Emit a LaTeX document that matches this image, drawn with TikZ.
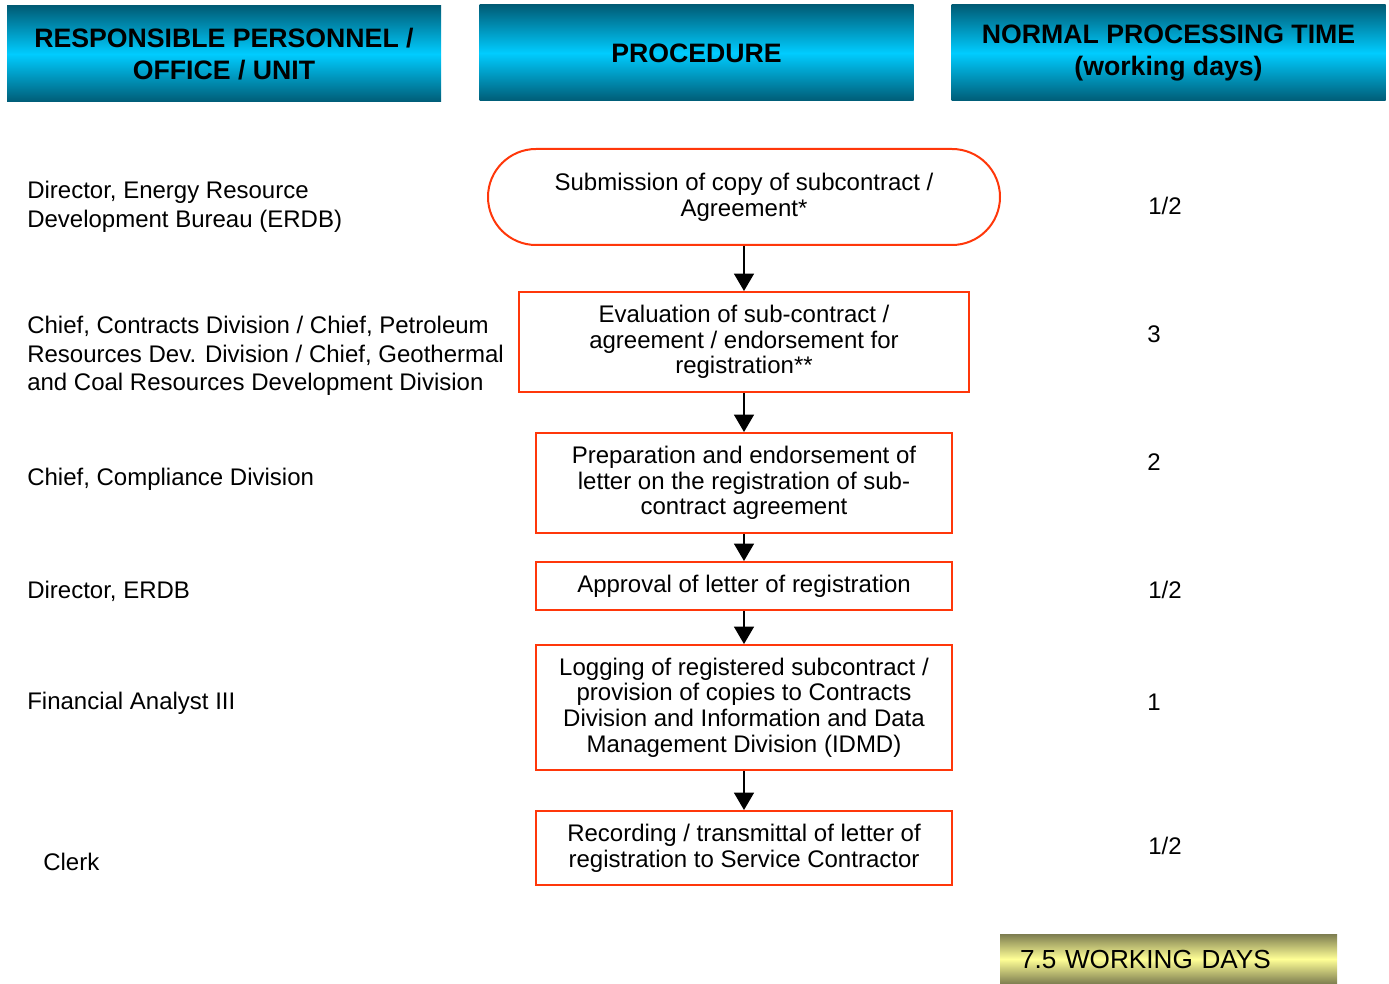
\documentclass[tikz,border=0pt]{standalone}
\usepackage{fontspec}
\setmainfont{Liberation Sans}
\usepackage{tikz}
\usetikzlibrary{arrows.meta,positioning}
\definecolor{headdark}{RGB}{0,92,118}
\definecolor{headlight}{RGB}{0,204,255}
\definecolor{flowred}{RGB}{255,55,10}
\definecolor{olivedark}{RGB}{125,125,80}
\definecolor{olivelight}{RGB}{255,255,150}

\begin{document}
\begin{tikzpicture}[
    head/.style={minimum width=325.5pt,minimum height=72pt,align=center,inner sep=0pt,
      top color=headdark,bottom color=headdark,middle color=headlight,
      font=\fontsize{20}{24}\selectfont\bfseries},
    flowbox/.style={draw=flowred,line width=1.5pt,align=center,inner sep=0pt,
      minimum width=312pt,font=\fontsize{18}{19.2}\selectfont},
    who/.style={anchor=west,align=left,inner sep=0pt,font=\fontsize{18}{21.4}\selectfont},
    days/.style={anchor=west,inner sep=0pt,font=\fontsize{18}{21.4}\selectfont},
    arrow/.style={-{Triangle[length=13pt,width=15pt]},line width=0.9pt}
  ]
    \useasboundingbox (0,0) rectangle (1041.75pt,-738pt);

    % column headers
    \node[head] (hwho) at (168pt,-40.5pt) {RESPONSIBLE PERSONNEL /\\OFFICE / UNIT};
    \node[head] (hproc) at (522.4pt,-39.75pt) {PROCEDURE};
    \node[head] (htime) at (876.4pt,-39.75pt) {NORMAL PROCESSING TIME\\(working days)};

    % procedure
    \node[flowbox,rounded corners=36pt,minimum width=384pt,minimum height=72pt] (submit) at (558pt,-147.75pt)
      {Submission of copy of subcontract /\\Agreement*};
    \node[flowbox,minimum width=337.5pt,minimum height=75pt,below=33.75pt of submit] (eval)
      {Evaluation of sub-contract /\\agreement / endorsement for\\registration**};
    \node[flowbox,minimum height=75pt,below=29.25pt of eval] (prep)
      {Preparation and endorsement of\\letter on the registration of sub-\\contract agreement};
    \node[flowbox,minimum height=36pt,below=20.25pt of prep] (approve)
      {Approval of letter of registration};
    \node[flowbox,minimum height=93.75pt,below=24.75pt of approve] (logging)
      {Logging of registered subcontract /\\provision of copies to Contracts\\Division and Information and Data\\Management Division (IDMD)};
    \node[flowbox,minimum height=55.5pt,below=29.25pt of logging] (record)
      {Recording / transmittal of letter of\\registration to Service Contractor};

    \draw[arrow] (submit) -- (eval);
    \draw[arrow] (eval) -- (prep);
    \draw[arrow] (prep) -- (approve);
    \draw[arrow] (approve) -- (logging);
    \draw[arrow] (logging) -- (record);

    % responsible personnel
    \node[who] (w1) at (20.25pt,-155.25pt) {Director, Energy Resource\\Development Bureau (ERDB)};
    \node[who] (w2) at (20.25pt,-267pt) {Chief, Contracts Division / Chief, Petroleum\\Resources Dev. Division / Chief, Geothermal\\and Coal Resources Development Division};
    \node[who] (w3) at (20.25pt,-359.25pt) {Chief, Compliance Division};
    \node[who] (w4) at (20.25pt,-443.25pt) {Director, ERDB};
    \node[who] (w5) at (20.25pt,-527.25pt) {Financial Analyst III};
    \node[who] (w6) at (32.25pt,-646.5pt) {Clerk};

    % processing time
    \node[days] (t1) at (861pt,-154.5pt) {1/2};
    \node[days] (t2) at (860.25pt,-250.5pt) {3};
    \node[days] (t3) at (860.25pt,-346.5pt) {2};
    \node[days] (t4) at (861pt,-442.5pt) {1/2};
    \node[days] (t5) at (860.25pt,-526.5pt) {1};
    \node[days] (t6) at (861pt,-634.5pt) {1/2};

    \node[top color=olivedark,bottom color=olivedark,middle color=olivelight,
      minimum height=37.5pt,text width=222.75pt,inner xsep=15pt,inner ysep=0pt,align=left,
      font=\fontsize{19.6}{22}\selectfont] (total) at (876.4pt,-719.25pt) {7.5 WORKING DAYS};
  \end{tikzpicture}
\end{document}
